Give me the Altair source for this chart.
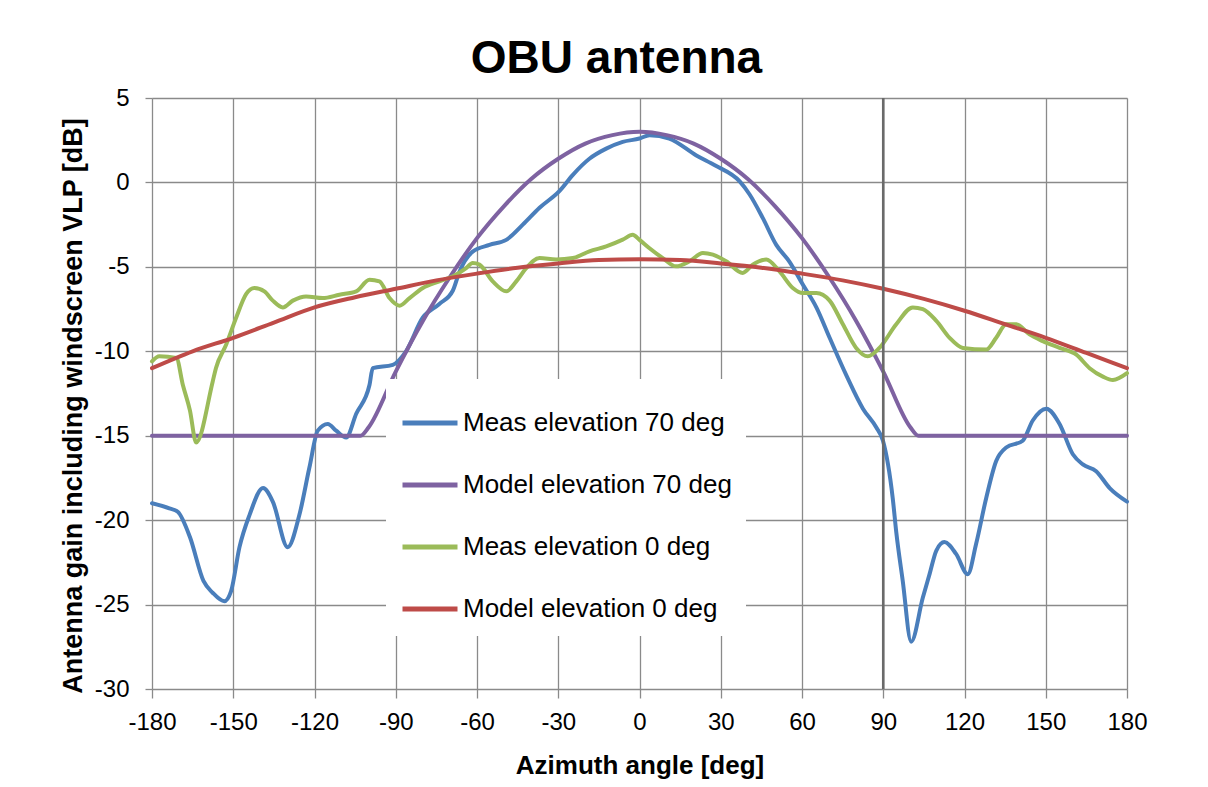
import altair as alt
import pandas as pd

series_names = ["Meas elevation 70 deg", "Model elevation 70 deg",
                "Meas elevation 0 deg", "Model elevation 0 deg"]
series_colors = ["#4A7EBB", "#7E62A1", "#9BBB59", "#BE4B48"]

x_ticks = [-180, -150, -120, -90, -60, -30, 0, 30, 60, 90, 120, 150, 180]
y_ticks = [5, 0, -5, -10, -15, -20, -25, -30]
marker_x = [90]

meas70_az = [-180, -173.6, -170.5, -166, -161, -157.6, -153.3, -150.8, -147.7, -144,
             -139, -135.4, -129.9, -125.6, -121.9, -118.8, -115.1, -112, -108.3, -104.6,
             -99.7, -98.5, -91.1, -86.2, -80, -73.9, -68.9, -66.5, -61.6, -55.4,
             -49.2, -43.1, -36.9, -29.5, -24.6, -18.5, -12.3, -6.2, 0, 3.7,
             11, 21, 28, 37, 40.6, 45.5, 50.5, 55.4, 60.3, 65.3,
             70.2, 76.3, 82.5, 87.4, 89.9, 93.5, 94.8, 97.2, 100.3, 104.6,
             107.1, 109.6, 112.6, 116.9, 121.2, 124.3, 128, 131.7, 135.4, 141.5,
             145.2, 150.2, 155.1, 160, 163.7, 168.6, 173.6, 180]
meas70_db = [-19.0, -19.3, -19.5, -21.0, -23.6, -24.3, -24.8, -24.2, -21.6, -19.7,
             -18.1, -18.9, -21.6, -19.7, -16.9, -14.7, -14.3, -14.7, -15.1, -13.7,
             -12.0, -11.0, -10.8, -10.0, -8.0, -7.2, -6.4, -5.3, -4.1, -3.7,
             -3.4, -2.5, -1.5, -0.5, 0.45, 1.4, 2.0, 2.4, 2.6, 2.8,
             2.6, 1.6, 1.0, 0.06, -0.7, -2.1, -3.7, -4.7, -6.05, -7.4,
             -9.2, -11.4, -13.4, -14.5, -15.3, -18.7, -20.7, -23.6, -27.2, -24.6,
             -23.2, -21.8, -21.3, -22.0, -23.2, -21.4, -18.7, -16.5, -15.7, -15.3,
             -14.1, -13.4, -14.3, -16.1, -16.7, -17.1, -18.1, -18.9]

model70_az = [-180, -103, -100, -90, -80, -70, -60, -50, -40, -30, -20, -10, 0,
              10, 20, 30, 40, 50, 60, 70, 80, 90, 100, 103, 180]
model70_db = [-15, -15, -14.5, -11.2, -8.2, -5.6, -3.3, -1.4, 0.2, 1.4, 2.3, 2.8, 3.0,
              2.8, 2.3, 1.4, 0.2, -1.4, -3.3, -5.6, -8.2, -11.2, -14.5, -15, -15]

meas0_az = [-180, -177.3, -171, -168.6, -166, -163.7, -157.6, -156.4, -152.6, -148.9,
            -145.2, -142.2, -138.5, -135.4, -131.7, -128, -123.1, -117, -110.8, -104.6,
            -99.7, -96, -92.3, -88.6, -84.9, -80, -73.9, -68.9, -64, -61.6,
            -59.1, -54.2, -49.2, -45.5, -41.8, -36.9, -30.8, -24.6, -18.5, -12.3,
            -6.2, -2.5, 0, 3.7, 8.6, 13.5, 18.5, 23.4, 27.1, 32,
            38.1, 41.8, 46.8, 51.7, 56.6, 60.3, 65.3, 70.2, 75.1, 80,
            84.3, 88.6, 94.8, 100.9, 104.6, 109.6, 114.5, 119.4, 128, 131.7,
            135.4, 139.1, 144, 148.9, 155.1, 161.3, 166.2, 171.1, 174.8, 180]
meas0_db = [-10.6, -10.3, -10.4, -12.0, -13.5, -15.4, -11.8, -11.0, -9.6, -8.0,
            -6.6, -6.25, -6.45, -7.0, -7.4, -7.0, -6.75, -6.85, -6.65, -6.45,
            -5.76, -5.86, -6.85, -7.3, -6.85, -6.25, -5.86, -5.56, -5.07, -4.77,
            -4.87, -5.86, -6.45, -5.86, -5.07, -4.48, -4.57, -4.48, -4.08, -3.79,
            -3.39, -3.1, -3.4, -3.9, -4.48, -4.97, -4.67, -4.18, -4.28, -4.67,
            -5.36, -4.87, -4.57, -5.27, -6.25, -6.55, -6.55, -7.0, -8.4, -9.8,
            -10.3, -9.8, -8.4, -7.4, -7.5, -8.2, -9.2, -9.8, -9.9, -9.2,
            -8.4, -8.4, -9.0, -9.4, -9.8, -10.2, -11.0, -11.5, -11.7, -11.3]

model0_az = [-180, -165, -150, -135, -120, -105, -90, -75, -60, -45, -30, -15, 0,
             15, 30, 45, 60, 75, 90, 105, 120, 135, 150, 165, 180]
model0_db = [-11.0, -10.0, -9.2, -8.3, -7.4, -6.8, -6.3, -5.8, -5.4, -5.05, -4.8, -4.6, -4.55,
             -4.6, -4.8, -5.05, -5.4, -5.8, -6.3, -6.9, -7.6, -8.4, -9.2, -10.1, -11.0]

rows = []
for name, az, db in [(series_names[0], meas70_az, meas70_db),
                     (series_names[1], model70_az, model70_db),
                     (series_names[2], meas0_az, meas0_db),
                     (series_names[3], model0_az, model0_db)]:
    for i, (a, d) in enumerate(zip(az, db)):
        rows.append({"series": name, "az": a, "db": d, "idx": i})
df = pd.DataFrame(rows)

FONT = "Liberation Sans"
GRID = "#8a8a8a"

x_enc = alt.X("az:Q", scale=alt.Scale(domain=[-180, 180], nice=False, zero=False),
              axis=alt.Axis(values=x_ticks, title="Azimuth angle [deg]",
                            labelExpr="'' + datum.value", labelFlush=False,
                            labelFont=FONT, labelFontSize=24, labelColor="black",
                            labelPadding=12, tickSize=9, tickColor=GRID, tickWidth=1.3,
                            grid=True, gridColor=GRID, gridWidth=1.3, gridOpacity=1,
                            domain=False,
                            titleFont=FONT, titleFontSize=26, titleFontWeight="bold",
                            titleColor="black", titleX=487.5, titleY=76,
                            titleBaseline="middle", titleAlign="center"))
y_enc = alt.Y("db:Q", scale=alt.Scale(domain=[-30, 5], nice=False, zero=False),
              axis=alt.Axis(values=y_ticks, title="Antenna  gain including windscreen VLP [dB]",
                            labelExpr="'' + datum.value", labelFlush=False,
                            labelFont=FONT, labelFontSize=24, labelColor="black",
                            labelPadding=16, tickSize=7, tickColor=GRID, tickWidth=1.3,
                            grid=True, gridColor=GRID, gridWidth=1.3, gridOpacity=1,
                            domain=False,
                            titleFont=FONT, titleFontSize=27, titleFontWeight="bold",
                            titleColor="black", titleX=-79, titleY=307.5, titleAngle=-90,
                            titleBaseline="middle", titleAlign="center"))

rule = alt.Chart(pd.DataFrame({"az": marker_x})).mark_rule(
    color="#6a6a6a", strokeWidth=2.6).encode(x=alt.X("az:Q"))

lines = alt.Chart(df).mark_line(strokeWidth=4, strokeJoin="round", strokeCap="round",
                                interpolate="monotone").encode(
    x=x_enc,
    y=y_enc,
    color=alt.Color("series:N",
                    scale=alt.Scale(domain=series_names, range=series_colors),
                    legend=alt.Legend(title=None, orient="none", legendX=234, legendY=281,
                                      fillColor="white", padding=14,
                                      symbolType="stroke", symbolSize=3025,
                                      symbolStrokeWidth=5, labelFont=FONT,
                                      labelFontSize=26, labelColor="black",
                                      labelOffset=3, rowPadding=19, labelLimit=500)),
    order=alt.Order("idx:Q"),
)

chart = alt.layer(lines, rule).properties(
    width=975, height=591,
    title=alt.TitleParams("OBU antenna", font=FONT, fontSize=46, fontWeight="bold",
                          color="black", anchor="middle", offset=3, dx=-23),
    autosize=alt.AutoSizeParams(type="none"),
    padding={"left": 152, "top": 98, "right": 81, "bottom": 98},
).configure_view(stroke=GRID, strokeWidth=1.3).configure(background="white")

chart.save("out.html", embed_options={"renderer": "svg", "actions": False})
